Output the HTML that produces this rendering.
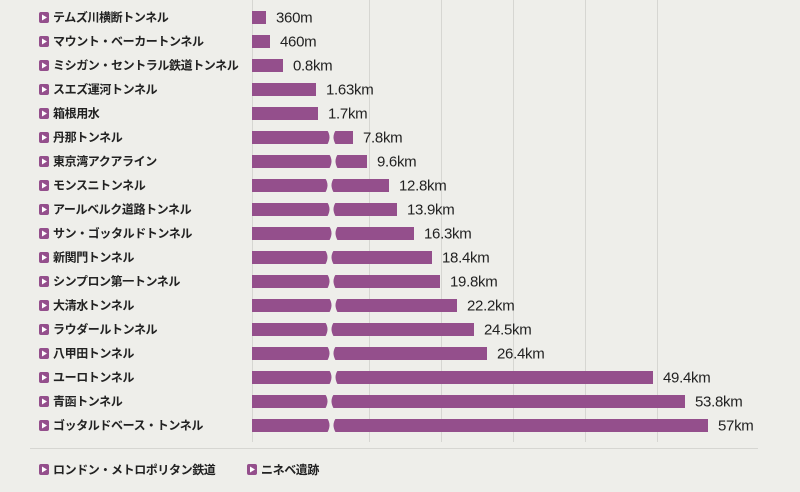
<!DOCTYPE html>
<html><head><meta charset="utf-8"><style>
body{margin:0;background:#eeeeea;}
</style></head><body>
<svg width="800" height="492" xmlns="http://www.w3.org/2000/svg" style="display:block;font-family:'Liberation Sans','Noto Sans CJK JP',sans-serif">
<rect width="800" height="492" fill="#eeeeea"/>
<g stroke="#d6d6d2" stroke-width="1">
<line x1="252.5" y1="0" x2="252.5" y2="442"/>
<line x1="369.5" y1="0" x2="369.5" y2="442"/>
<line x1="441.5" y1="0" x2="441.5" y2="442"/>
<line x1="513.5" y1="0" x2="513.5" y2="442"/>
<line x1="585.5" y1="0" x2="585.5" y2="442"/>
<line x1="657.5" y1="0" x2="657.5" y2="442"/>
<line x1="30" y1="448.5" x2="758" y2="448.5"/>
</g>
<g id="rows" font-size="12" font-weight="bold" fill="#222" letter-spacing="-0.4"></g>
<g font-size="12" font-weight="bold" fill="#222" letter-spacing="-0.4">
<rect x="39" y="464" width="10" height="11" rx="2" fill="#944f8c"/><path d="M42 466.5 L47 469.5 L42 472.5Z" fill="#fff"/>
<text x="53" y="474">ロンドン・メトロポリタン鉄道</text>
<rect x="247" y="464" width="10" height="11" rx="2" fill="#944f8c"/><path d="M250 466.5 L255 469.5 L250 472.5Z" fill="#fff"/>
<text x="261" y="474">ニネベ遺跡</text>
</g>
</svg>
<script>
var d=[["テムズ川横断トンネル",266,"360m",0],["マウント・ベーカートンネル",270,"460m",0],["ミシガン・セントラル鉄道トンネル",283,"0.8km",0],["スエズ運河トンネル",316,"1.63km",0],["箱根用水",318,"1.7km",0],["丹那トンネル",353,"7.8km",1],["東京湾アクアライン",367,"9.6km",1],["モンスニトンネル",389,"12.8km",1],["アールベルク道路トンネル",397,"13.9km",1],["サン・ゴッタルドトンネル",414,"16.3km",1],["新関門トンネル",432,"18.4km",1],["シンプロン第一トンネル",440,"19.8km",1],["大清水トンネル",457,"22.2km",1],["ラウダールトンネル",474,"24.5km",1],["八甲田トンネル",487,"26.4km",1],["ユーロトンネル",653,"49.4km",1],["青函トンネル",685,"53.8km",1],["ゴッタルドベース・トンネル",708,"57km",1]];
var g=document.getElementById("rows"),s="";
d.forEach(function(r,i){var c=17+24*i,y=c-6;
s+='<rect x="39" y="'+(c-5)+'" width="10" height="11" rx="2" fill="#944f8c"/><path d="M42 '+(c-2.5)+' L47 '+(c+0.5)+' L42 '+(c+3.5)+'Z" fill="#fff"/>';
s+='<text x="53" y="'+(c+4.5)+'">'+r[0]+'</text>';
s+='<rect x="252" y="'+y+'" width="'+(r[1]-252)+'" height="13" fill="#944f8c"/>';
if(r[3]){var o=(i%3==0)?2:(i%3==1?-2:0);var a=327+o;
s+='<path d="M'+a+' '+(y-1)+' Q'+(a+5)+' '+(c)+' '+a+' '+(y+14)+' L'+(a+9)+' '+(y+14)+' Q'+(a+4)+' '+c+' '+(a+9)+' '+(y-1)+'Z" fill="#eeeeea"/>';}
s+='<text x="'+(r[1]+10)+'" y="'+(c+5.5)+'" font-weight="normal" font-size="15" letter-spacing="-0.3" fill="#222">'+r[2]+'</text>';});
g.innerHTML=s;
</script>
</body></html>
